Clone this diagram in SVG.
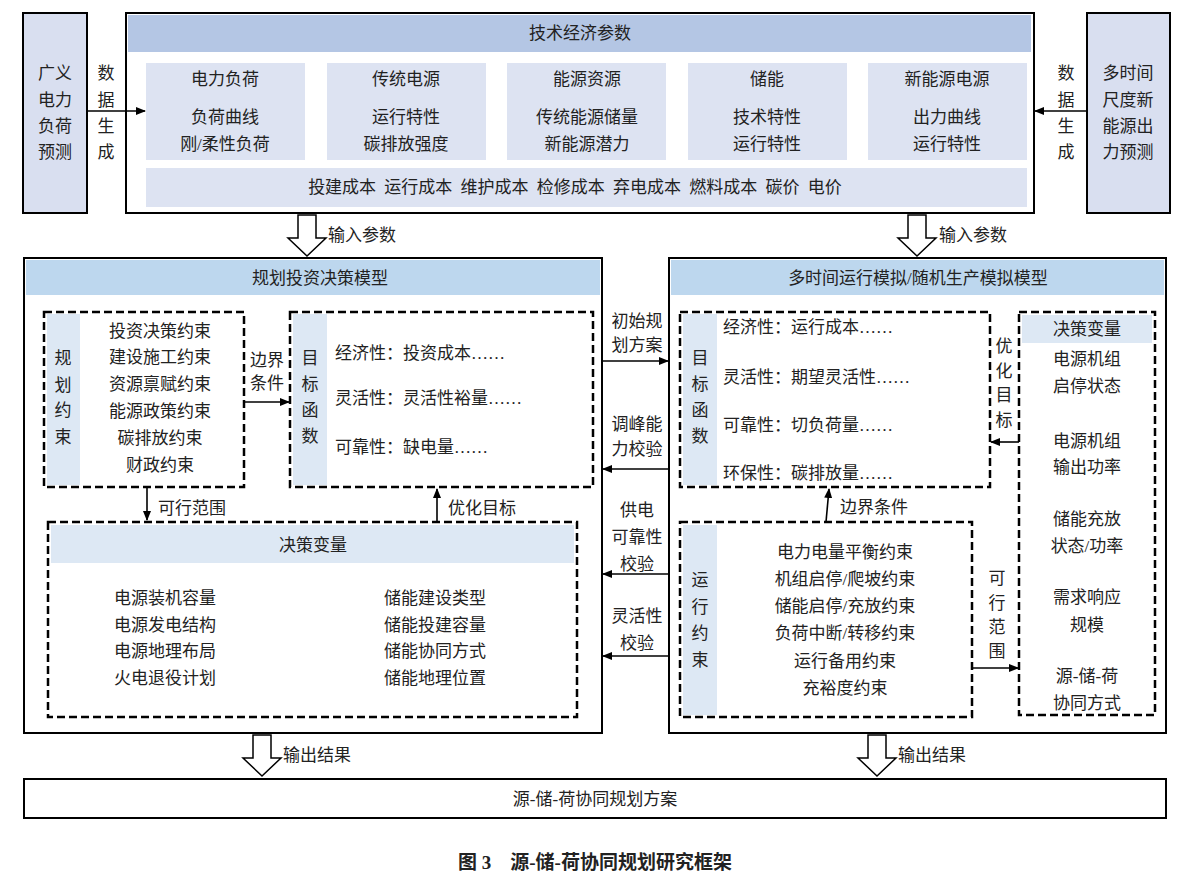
<svg xmlns="http://www.w3.org/2000/svg" width="1195" height="883" viewBox="0 0 1195 883">
<defs>
<marker id="ah" markerWidth="10" markerHeight="8" refX="9" refY="4" orient="auto" markerUnits="userSpaceOnUse"><path d="M0,0 L10,4 L0,8 z" fill="#000"/></marker>
<style>
text{font-family:"Liberation Serif","Noto Sans CJK SC",serif;font-size:17px;fill:#222;text-anchor:middle;dominant-baseline:central}
.lt{text-anchor:start}
.solid{fill:#fff;stroke:#000;stroke-width:2}
.side{fill:#d9dff0;stroke:#000;stroke-width:2}
.hdr{fill:#b4c6e4}
.mhdr{fill:#bdd7ee}
.sub{fill:#dde3f2}
.lb{fill:#dde8f4}
.dash{fill:#fff;stroke:#000;stroke-width:2.5;stroke-dasharray:8,4}
.ln{stroke:#000;stroke-width:1.6;fill:none;marker-end:url(#ah)}
.hol{fill:#fff;stroke:#000;stroke-width:1.5}
</style>
</defs>
<rect width="1195" height="883" fill="#fff"/>
<g id="n-load"><rect class="side" x="23" y="13" width="64" height="200"/>
<text x="55" y="73">广义</text><text x="55" y="100">电力</text><text x="55" y="126">负荷</text><text x="55" y="152">预测</text></g>
<g id="n-renew"><rect class="side" x="1087" y="13" width="83" height="200"/>
<text x="1128" y="73">多时间</text><text x="1128" y="100">尺度新</text><text x="1128" y="126">能源出</text><text x="1128" y="152">力预测</text></g>
<g id="n-tech">
<rect class="solid" x="126" y="13" width="908" height="200"/>
<rect class="hdr" x="128" y="15" width="903" height="37"/>
<text x="580" y="33">技术经济参数</text>
<rect class="sub" x="146" y="63" width="159" height="97"/><text x="225" y="79">电力负荷</text><text x="225" y="117">负荷曲线</text><text x="225" y="144">刚/柔性负荷</text>
<rect class="sub" x="327" y="63" width="159" height="97"/><text x="406" y="79">传统电源</text><text x="406" y="117">运行特性</text><text x="406" y="144">碳排放强度</text>
<rect class="sub" x="507" y="63" width="159" height="97"/><text x="587" y="79">能源资源</text><text x="587" y="117">传统能源储量</text><text x="587" y="144">新能源潜力</text>
<rect class="sub" x="688" y="63" width="159" height="97"/><text x="767" y="79">储能</text><text x="767" y="117">技术特性</text><text x="767" y="144">运行特性</text>
<rect class="sub" x="868" y="63" width="159" height="97"/><text x="947" y="79">新能源电源</text><text x="947" y="117">出力曲线</text><text x="947" y="144">运行特性</text>
<rect class="sub" x="146" y="168" width="881" height="39"/>
<text x="575" y="187" style="word-spacing:4px">投建成本 运行成本 维护成本 检修成本 弃电成本 燃料成本 碳价 电价</text>
</g>
<g id="n-left-model">
<rect class="solid" x="24" y="258" width="578" height="475"/>
<rect class="mhdr" x="26" y="260" width="574" height="35"/>
<text x="320" y="278">规划投资决策模型</text>
</g>
<g id="n-plan-cons"><rect class="dash" x="44" y="312" width="200" height="175"/><rect class="lb" x="47" y="314" width="33" height="171"/>
<text x="63" y="358">规</text><text x="63" y="385">划</text><text x="63" y="410">约</text><text x="63" y="437">束</text>
<text x="160" y="331">投资决策约束</text><text x="160" y="357">建设施工约束</text><text x="160" y="384">资源禀赋约束</text><text x="160" y="411">能源政策约束</text><text x="160" y="438">碳排放约束</text><text x="160" y="465">财政约束</text></g>
<g id="n-obj-left"><rect class="dash" x="290" y="312" width="303" height="175"/><rect class="lb" x="293" y="314" width="34" height="171"/>
<text x="310" y="358">目</text><text x="310" y="384">标</text><text x="310" y="410">函</text><text x="310" y="436">数</text>
<text class="lt" x="335" y="353">经济性：投资成本……</text><text class="lt" x="335" y="398">灵活性：灵活性裕量……</text><text class="lt" x="335" y="447">可靠性：缺电量……</text></g>
<g id="n-dv-left"><rect class="dash" x="48" y="522" width="529" height="195"/><rect class="lb" x="51" y="525" width="523" height="38"/>
<text x="313" y="545">决策变量</text>
<text x="165" y="598">电源装机容量</text><text x="165" y="625">电源发电结构</text><text x="165" y="651">电源地理布局</text><text x="165" y="678">火电退役计划</text>
<text x="435" y="598">储能建设类型</text><text x="435" y="625">储能投建容量</text><text x="435" y="651">储能协同方式</text><text x="435" y="678">储能地理位置</text></g>
<g id="n-right-model">
<rect class="solid" x="669" y="258" width="497" height="475"/>
<rect class="mhdr" x="671" y="260" width="493" height="35"/>
<text x="918" y="278">多时间运行模拟/随机生产模拟模型</text>
</g>
<g id="n-obj-right"><rect class="dash" x="680" y="312" width="310" height="175"/><rect class="lb" x="683" y="314" width="34" height="171"/>
<text x="700" y="358">目</text><text x="700" y="384">标</text><text x="700" y="410">函</text><text x="700" y="436">数</text>
<text class="lt" x="723" y="327">经济性：运行成本……</text><text class="lt" x="723" y="377">灵活性：期望灵活性……</text><text class="lt" x="723" y="425">可靠性：切负荷量……</text><text class="lt" x="723" y="473">环保性：碳排放量……</text></g>
<g id="n-op-cons"><rect class="dash" x="680" y="522" width="292" height="195"/><rect class="lb" x="683" y="525" width="34" height="190"/>
<text x="700" y="580">运</text><text x="700" y="607">行</text><text x="700" y="633">约</text><text x="700" y="660">束</text>
<text x="845" y="552">电力电量平衡约束</text><text x="845" y="579">机组启停/爬坡约束</text><text x="845" y="606">储能启停/充放约束</text><text x="845" y="633">负荷中断/转移约束</text><text x="845" y="661">运行备用约束</text><text x="845" y="688">充裕度约束</text></g>
<g id="n-dv-right"><rect class="dash" x="1019" y="312" width="136" height="403"/><rect class="lb" x="1022" y="315" width="130" height="28"/>
<text x="1087" y="329">决策变量</text>
<text x="1087" y="359">电源机组</text><text x="1087" y="386">启停状态</text><text x="1087" y="441">电源机组</text><text x="1087" y="467">输出功率</text><text x="1087" y="519">储能充放</text><text x="1087" y="546">状态/功率</text><text x="1087" y="597">需求响应</text><text x="1087" y="625">规模</text><text x="1087" y="676">源-储-荷</text><text x="1087" y="703">协同方式</text></g>
<g id="n-out"><rect class="solid" x="24" y="779" width="1142" height="39"/><text x="595" y="799">源-储-荷协同规划方案</text></g>
<g id="connectors">
<line class="ln" x1="87" y1="111" x2="145" y2="111"/>
<line class="ln" x1="1087" y1="111" x2="1035" y2="111"/>
<path class="hol" d="M298,215 h18 v23 h10 l-19,18 l-19,-18 h10 z"/>
<path class="hol" d="M908,215 h18 v23 h10 l-19,18 l-19,-18 h10 z"/>
<path class="hol" d="M253,735 h18 v23 h10 l-19,18 l-19,-18 h10 z"/>
<path class="hol" d="M868,735 h18 v23 h10 l-19,18 l-19,-18 h10 z"/>
<line class="ln" x1="244" y1="402" x2="289" y2="402"/>
<line class="ln" x1="147" y1="488" x2="147" y2="520"/>
<line class="ln" x1="437" y1="521" x2="437" y2="489"/>
<line class="ln" x1="602" y1="361" x2="668" y2="361"/>
<line class="ln" x1="669" y1="469" x2="603" y2="469"/>
<line class="ln" x1="669" y1="574" x2="603" y2="574"/>
<line class="ln" x1="669" y1="656" x2="603" y2="656"/>
<line class="ln" x1="1019" y1="442" x2="991" y2="442"/>
<line class="ln" x1="826" y1="522" x2="829" y2="489"/>
<line class="ln" x1="972" y1="668" x2="1018" y2="668"/>
</g>
<g id="labels">
<text x="106" y="73">数</text><text x="106" y="100">据</text><text x="106" y="126">生</text><text x="106" y="152">成</text>
<text x="1066" y="73">数</text><text x="1066" y="100">据</text><text x="1066" y="126">生</text><text x="1066" y="152">成</text>
<text class="lt" x="328" y="235">输入参数</text><text class="lt" x="939" y="235">输入参数</text>
<text class="lt" x="283" y="755">输出结果</text><text class="lt" x="898" y="755">输出结果</text>
<text x="267" y="360">边界</text><text x="267" y="383">条件</text>
<text class="lt" x="158" y="508">可行范围</text><text class="lt" x="448" y="508">优化目标</text>
<text x="637" y="321">初始规</text><text x="637" y="345">划方案</text>
<text x="637" y="424">调峰能</text><text x="637" y="449">力校验</text>
<text x="637" y="510">供电</text><text x="637" y="537">可靠性</text><text x="637" y="564">校验</text>
<text x="637" y="616">灵活性</text><text x="637" y="643">校验</text>
<text x="1004" y="346">优</text><text x="1004" y="371">化</text><text x="1004" y="395">目</text><text x="1004" y="420">标</text>
<text class="lt" x="840" y="507">边界条件</text>
<text x="997" y="578">可</text><text x="997" y="603">行</text><text x="997" y="627">范</text><text x="997" y="651">围</text>
</g>
<text x="595" y="862" style="font-weight:bold;font-size:19px">图 3　源-储-荷协同规划研究框架</text>
</svg>
